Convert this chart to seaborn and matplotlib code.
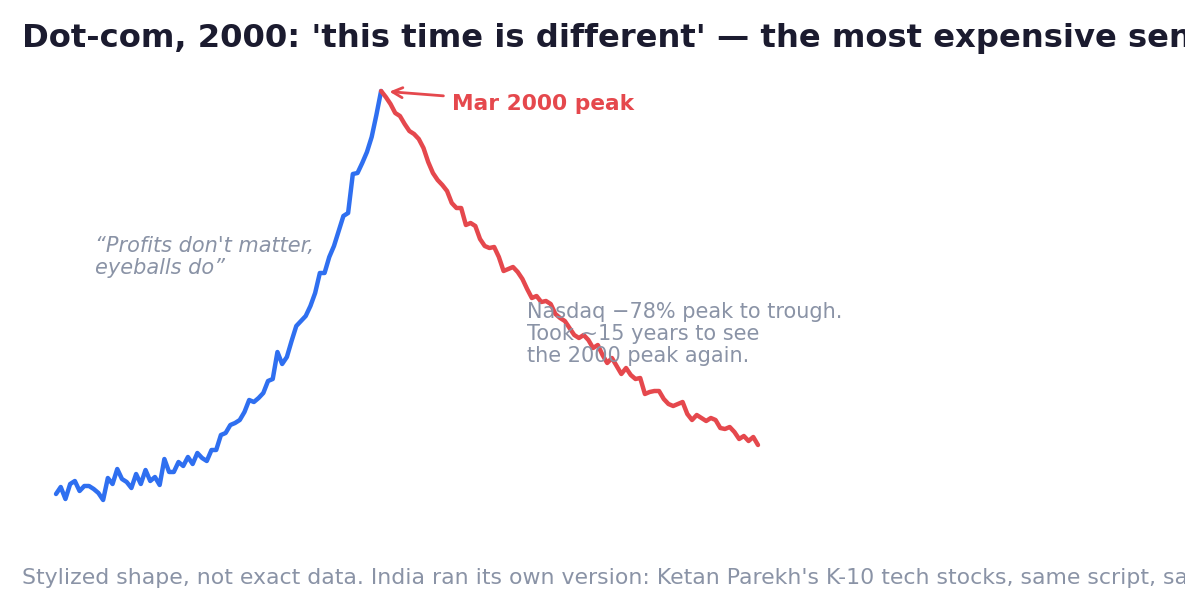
"""Dot-com 2000 - forma estilizada del boom y el crash del Nasdaq."""

import matplotlib

matplotlib.use("Agg")
import matplotlib.pyplot as plt
import pandas as pd
import seaborn as sns

# --- datos (forma estilizada, nivel del indice) ---
rise_values = [
    726, 803, 671, 836, 869, 759, 814, 814, 781, 737,
    660, 902, 836, 1001, 891, 858, 792, 946, 836, 990,
    869, 913, 825, 1111, 968, 968, 1078, 1034, 1133, 1056,
    1177, 1122, 1089, 1210, 1210, 1375, 1397, 1485, 1507, 1540,
    1628, 1760, 1738, 1782, 1837, 1969, 1991, 2288, 2156, 2233,
    2409, 2574, 2629, 2684, 2794, 2937, 3157, 3157, 3333, 3454,
    3619, 3784, 3817, 4246, 4257, 4367, 4488, 4653, 4895, 5159,
]
fall_values = [
    5159, 5093, 5016, 4917, 4884, 4796, 4719, 4686, 4631, 4532,
    4378, 4257, 4180, 4125, 4059, 3927, 3872, 3872, 3685, 3707,
    3674, 3531, 3454, 3432, 3443, 3333, 3179, 3201, 3223, 3168,
    3091, 2981, 2882, 2904, 2838, 2849, 2816, 2706, 2662, 2629,
    2552, 2475, 2442, 2475, 2420, 2332, 2365, 2255, 2167, 2222,
    2134, 2046, 2112, 2035, 1991, 2002, 1826, 1848, 1859, 1859,
    1771, 1716, 1694, 1716, 1738, 1606, 1540, 1595, 1562, 1529,
    1562, 1540, 1452, 1441, 1463, 1408, 1331, 1364, 1309, 1353,
    1265,
]

title = "Dot-com, 2000: 'this time is different' \u2014 the most expensive sentence in investing"
footer = ("Stylized shape, not exact data. India ran its own version: "
          "Ketan Parekh's K-10 tech stocks, same script, same ending.")
quote = "\u201cProfits don't matter,\neyeballs do\u201d"
crash_note = "Nasdaq \u221278% peak to trough.\nTook ~15 years to see\nthe 2000 peak again."
peak_label = "Mar 2000 peak"

BLUE = "#2f6ff0"
RED = "#e5484d"
GREY = "#8a93a6"
INK = "#1b1b2f"

sns.set_theme(style="white")
plt.rcParams["font.family"] = ["DejaVu Sans"]

peak_i = len(rise_values) - 1
rise = pd.DataFrame({"t": range(len(rise_values)), "v": rise_values})
fall = pd.DataFrame({"t": range(peak_i, peak_i + len(fall_values)), "v": fall_values})

fig = plt.figure(figsize=(11.85, 6.15), dpi=100)
ax = fig.add_axes([40 / 1185, 85 / 615, 734 / 1185, 460 / 615])

sns.lineplot(data=rise, x="t", y="v", color=BLUE, linewidth=3.2, ax=ax)
sns.lineplot(data=fall, x="t", y="v", color=RED, linewidth=3.2, ax=ax)

ax.set_xlim(-3.4, 152.4)
ax.set_ylim(330, 5390)
ax.axis("off")

peak_v = rise_values[-1]
ax.annotate(peak_label, xy=(peak_i, peak_v), xytext=(84.1, 5020),
            color=RED, fontsize=15.7, fontweight="bold", ha="left", va="center",
            arrowprops=dict(arrowstyle="->", color=RED, lw=2,
                            shrinkA=4, shrinkB=6, mutation_scale=18))

ax.text(8.3, 3330, quote, color=GREY, fontsize=15, style="italic",
        ha="left", va="center", linespacing=1.1)
ax.text(100, 2490, crash_note, color=GREY, fontsize=15,
        ha="left", va="center", linespacing=1.12)

fig.text(22 / 1185, 1 - 38 / 615, title, color=INK, fontsize=23.2,
         fontweight="bold", ha="left", va="center")
fig.text(22 / 1185, 1 - 578 / 615, footer, color=GREY, fontsize=15.8,
         ha="left", va="center")

fig.savefig("out.png", dpi=100)
plt.close(fig)
